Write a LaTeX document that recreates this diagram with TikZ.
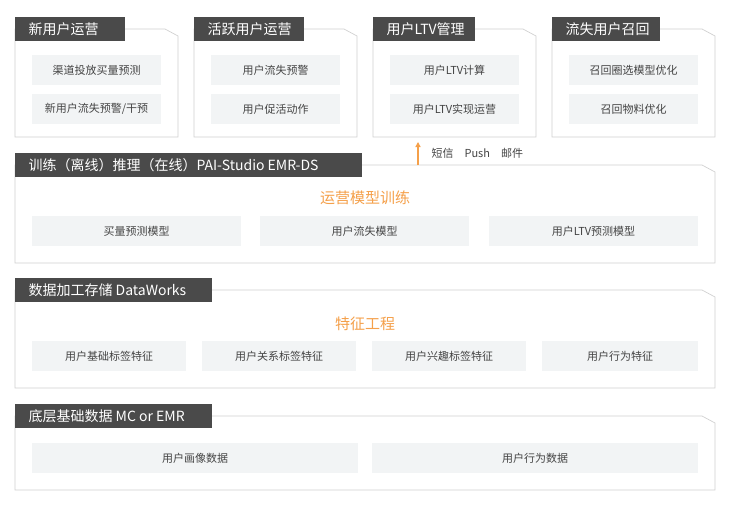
\documentclass[tikz,border=0pt]{standalone}
\usepackage{fontspec}
\setmainfont{Noto Sans CJK SC}
\usetikzlibrary{arrows.meta}
\definecolor{tabc}{HTML}{4A4A4A}
\definecolor{itemc}{HTML}{F2F4F5}
\definecolor{orc}{HTML}{F5A04A}
\definecolor{txc}{HTML}{444444}
\tikzset{
 panel/.style={draw=black!18,fill=white,line width=0.7pt},
 tabbox/.style={fill=tabc,text=white,font=\fontsize{14}{14}\selectfont,inner sep=0pt,anchor=south west},
 item/.style={fill=itemc,text=txc,font=\fontsize{11}{11}\selectfont,inner sep=0pt},
 ttl/.style={text=orc,font=\fontsize{15}{15}\selectfont}
}
\newcommand{\panelat}[4]{% x1 y1 x2 y2 (pixel, y down)
 \draw[panel] (#1,#2) -- (#3-13,#2) -- (#3,#2+7) -- (#3,#4) -- (#1,#4) -- cycle;}
\newcommand{\tabat}[6]{% name x1 y1 x2 y2 text
 \fill[tabc] (#2,#3) rectangle (#4,#5);
 \node[text=white,font=\fontsize{14}{14}\selectfont,anchor=west] (#1) at (#2+10,{(#3+#5)/2}) {#6};}
\newcommand{\itemat}[6]{%
 \node[item,minimum width={#4-#2},minimum height={#5-#3}] (#1) at ({(#2+#4)/2},{(#3+#5)/2}) {#6};}
\begin{document}
\begin{tikzpicture}[x=1pt,y=-1pt]
\useasboundingbox[fill=white] (0,0) rectangle (733,508);
% top boxes
\panelat{15}{29}{178}{137}\tabat{t1}{15}{17}{125}{41}{新用户运营}
\itemat{a1}{32}{55}{161}{85}{渠道投放买量预测}
\itemat{a2}{32}{94}{161}{124}{新用户流失预警/干预}
\panelat{194}{29}{357}{137}\tabat{t2}{194}{17}{304}{41}{活跃用户运营}
\itemat{b1}{211}{55}{340}{85}{用户流失预警}
\itemat{b2}{211}{94}{340}{124}{用户促活动作}
\panelat{373}{29}{536}{137}\tabat{t3}{373}{17}{475}{41}{用户LTV管理}
\itemat{c1}{390}{55}{519}{85}{用户LTV计算}
\itemat{c2}{390}{94}{519}{124}{用户LTV实现运营}
\panelat{552}{29}{715}{137}\tabat{t4}{552}{17}{660}{41}{流失用户召回}
\itemat{d1}{569}{55}{698}{85}{召回圈选模型优化}
\itemat{d2}{569}{94}{698}{124}{召回物料优化}
% band 2
\panelat{15}{165}{715}{263}\tabat{t5}{15}{153}{362}{177}{训练（离线）推理（在线）PAI-Studio EMR-DS}
\node[ttl] (m) at (365,198) {运营模型训练};
\itemat{e1}{32}{216}{241}{246}{买量预测模型}
\itemat{e2}{260}{216}{469}{246}{用户流失模型}
\itemat{e3}{489}{216}{698}{246}{用户LTV预测模型}
\coordinate (ab) at (418,165);\coordinate (at) at (418,142);
\draw[orc,line width=1.5pt,-{Triangle[length=5pt,width=5pt]}] (ab) -- (at);
\node[text=txc,font=\fontsize{11}{11}\selectfont,anchor=west] (ch) at (428,153) {短信\quad Push\quad 邮件};
% band 3
\panelat{15}{290}{715}{388}\tabat{t6}{15}{278}{212}{302}{数据加工存储 DataWorks}
\node[ttl] (f) at (365,324) {特征工程};
\itemat{g1}{32}{341}{186}{371}{用户基础标签特征}
\itemat{g2}{202}{341}{356}{371}{用户关系标签特征}
\itemat{g3}{372}{341}{526}{371}{用户兴趣标签特征}
\itemat{g4}{542}{341}{698}{371}{用户行为特征}
% band 4
\panelat{15}{416}{715}{490}\tabat{t7}{15}{404}{212}{428}{底层基础数据 MC or EMR}
\itemat{h1}{32}{443}{358}{473}{用户画像数据}
\itemat{h2}{372}{443}{698}{473}{用户行为数据}
\end{tikzpicture}
\end{document}
